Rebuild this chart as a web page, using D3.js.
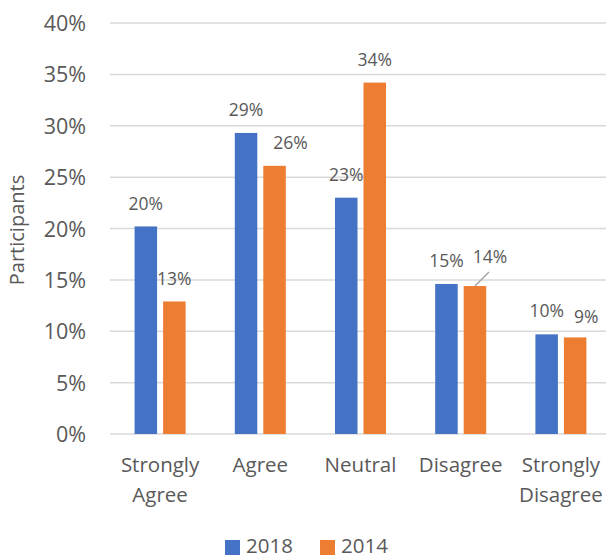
<!DOCTYPE html>
<html>
<head>
<meta charset="utf-8">
<script src="https://cdn.jsdelivr.net/npm/d3@7"></script>
<style>
  body { margin: 0; background: #fff; }
  text { font-family: "Open Sans", "Noto Sans", sans-serif; fill: #595959; }
</style>
</head>
<body>
<div class="chart-box"></div>
<script>
// data
const categories = [["Strongly", "Agree"], ["Agree"], ["Neutral"], ["Disagree"], ["Strongly", "Disagree"]];
const series = ["2018", "2014"];
const values2018 = [20.2, 29.3, 23.0, 14.6, 9.7];
const values2014 = [12.9, 26.1, 34.2, 14.4, 9.4];
const labels2018 = ["20%", "29%", "23%", "15%", "10%"];
const labels2014 = ["13%", "26%", "34%", "14%", "9%"];
const yTicks = [0, 5, 10, 15, 20, 25, 30, 35, 40];
const colors = ["#4472c4", "#ed7d31"];

// manual label nudges (px), like the hand-moved labels in the original
const nudge2014 = [[0, 0], [16, 0], [0, 0], [15, -6], [11, 2]];

let width = 606, height = 560;

let svg = d3.select('.chart-box')
  .append('svg')
  .attr('width', width)
  .attr('height', height);

let x = d3.scaleBand()
  .domain(d3.range(categories.length))
  .range([110, 611]);

let y = d3.scaleLinear()
  .domain([0, 40])
  .range([434, 23]);

let barW = 22.5, gap = 6;

// gridlines
svg.append('g')
  .selectAll('line')
  .data(yTicks)
  .enter()
  .append('line')
  .attr('x1', 110)
  .attr('x2', width)
  .attr('y1', d => y(d))
  .attr('y2', d => y(d))
  .attr('stroke', '#d9d9d9')
  .attr('stroke-width', 1.5);

// y axis labels
let yAxis = svg.append('g')
  .attr('transform', 'translate(86,0)')
  .call(d3.axisLeft(y).tickValues(yTicks).tickFormat(d => d + '%').tickSize(0).tickPadding(0));
yAxis.select('.domain').remove();
yAxis.selectAll('text')
  .style('font-size', '21.5px')
  .style('font-family', '"Open Sans", sans-serif')
  .attr('fill', '#595959')
  .attr('dy', '0.35em');

// y title
svg.append('text')
  .attr('transform', 'translate(24,230) rotate(-90)')
  .attr('text-anchor', 'middle')
  .style('font-size', '20px')
  .text('Participants');

let groups = [values2018, values2014];
let labelSets = [labels2018, labels2014];

groups.forEach(function (vals, s) {
  let xPos = i => s === 0 ? x(i) + x.bandwidth() / 2 - gap / 2 - barW : x(i) + x.bandwidth() / 2 + gap / 2;
  svg.append('g')
    .selectAll('rect')
    .data(vals)
    .enter()
    .append('rect')
    .attr('x', (d, i) => xPos(i))
    .attr('y', d => y(d))
    .attr('width', barW)
    .attr('height', d => y(0) - y(d))
    .attr('fill', colors[s]);

  svg.append('g')
    .selectAll('text')
    .data(vals)
    .enter()
    .append('text')
    .attr('x', (d, i) => xPos(i) + barW / 2 + (s === 1 ? nudge2014[i][0] : 0))
    .attr('y', (d, i) => y(d) - 23 + (s === 1 ? nudge2014[i][1] : 0))
    .attr('dy', '0.35em')
    .attr('text-anchor', 'middle')
    .style('font-size', '17.5px')
    .attr('fill', '#404040')
    .text((d, i) => labelSets[s][i]);
});

// leader line for the moved 14% label
svg.append('line')
  .attr('x1', x(3) + x.bandwidth() / 2 + gap / 2 + barW / 2)
  .attr('y1', y(values2014[3]))
  .attr('x2', x(3) + x.bandwidth() / 2 + gap / 2 + barW / 2 + 14)
  .attr('y2', y(values2014[3]) - 14)
  .attr('stroke', '#a6a6a6')
  .attr('stroke-width', 1.5);

// category labels
let cat = svg.append('g')
  .selectAll('text')
  .data(categories)
  .enter()
  .append('text')
  .attr('text-anchor', 'middle')
  .style('font-size', '20.5px')
  .attr('x', (d, i) => x(i) + x.bandwidth() / 2);
cat.selectAll('tspan')
  .data(d => d)
  .enter()
  .append('tspan')
  .attr('x', function () { return d3.select(this.parentNode).attr('x'); })
  .attr('y', (d, j) => 472 + j * 30)
  .text(d => d);

// legend
let legend = svg.append('g');
series.forEach(function (name, s) {
  let lx = 225 + s * 95;
  legend.append('rect')
    .attr('x', lx)
    .attr('y', 540)
    .attr('width', 15)
    .attr('height', 15)
    .attr('fill', colors[s]);
  legend.append('text')
    .attr('x', lx + 21)
    .attr('y', 553)
    .style('font-size', '20.5px')
    .text(name);
});
</script>
</body>
</html>
